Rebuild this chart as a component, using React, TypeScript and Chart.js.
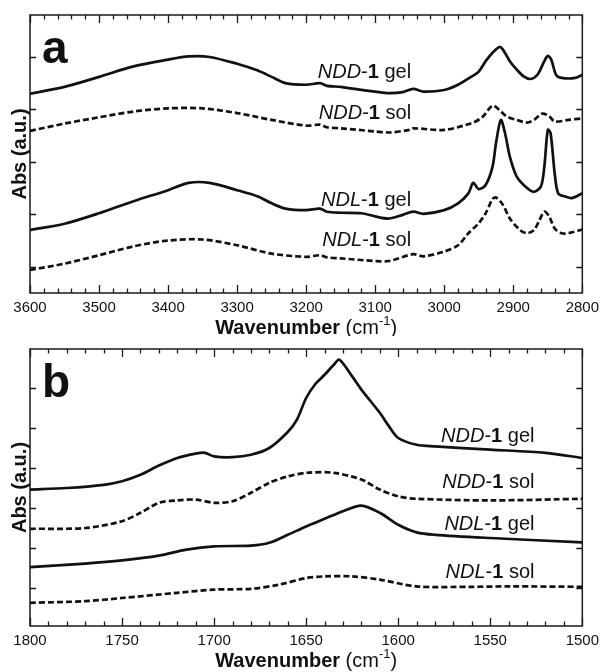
import React, { useEffect, useRef } from 'react';
import { Chart, registerables } from 'chart.js';

Chart.register(...registerables);

const FONT = '"Liberation Sans", Arial, Helvetica, sans-serif';

// ---------- Panel a (3600–2800 cm-1) ----------
const A_X_MIN = 2800;
const A_X_MAX = 3600;
const A_X_MAJOR = 100;
const A_X_MINOR = 20;
const A_Y_MIN = 0.5;
const A_Y_MAX = 5.8;
const A_Y_TICKS = [1, 2, 3, 4, 5];

const A_NDD_GEL_WN = [3600, 3550, 3500, 3450, 3400, 3370, 3340, 3300, 3270, 3250, 3230, 3200, 3180, 3170, 3150, 3130, 3100, 3080, 3060, 3045, 3030, 3000, 2980, 2960, 2950, 2940, 2930, 2920, 2915, 2905, 2895, 2885, 2875, 2865, 2855, 2850, 2845, 2838, 2830, 2810, 2800];
const A_NDD_GEL_ABS = [4.30, 4.43, 4.62, 4.82, 4.95, 5.01, 5.00, 4.87, 4.74, 4.62, 4.50, 4.47, 4.50, 4.45, 4.43, 4.39, 4.34, 4.31, 4.33, 4.39, 4.34, 4.37, 4.47, 4.63, 4.72, 4.92, 5.08, 5.19, 5.14, 4.92, 4.76, 4.63, 4.58, 4.66, 4.92, 5.02, 4.95, 4.66, 4.60, 4.60, 4.66];

const A_NDD_SOL_WN = [3600, 3550, 3500, 3450, 3400, 3350, 3300, 3250, 3200, 3180, 3170, 3150, 3100, 3080, 3050, 3045, 3000, 2960, 2945, 2930, 2920, 2910, 2895, 2880, 2870, 2858, 2848, 2840, 2820, 2800];
const A_NDD_SOL_ABS = [3.59, 3.73, 3.85, 3.96, 4.02, 4.02, 3.93, 3.80, 3.69, 3.71, 3.66, 3.64, 3.58, 3.56, 3.61, 3.64, 3.61, 3.74, 3.85, 4.07, 3.99, 3.87, 3.80, 3.75, 3.80, 3.92, 3.87, 3.77, 3.80, 3.83];

const A_NDL_GEL_WN = [3600, 3550, 3500, 3450, 3400, 3370, 3340, 3300, 3270, 3250, 3230, 3200, 3180, 3170, 3150, 3120, 3100, 3080, 3060, 3045, 3030, 3000, 2980, 2965, 2958, 2950, 2940, 2930, 2925, 2918, 2912, 2905, 2895, 2880, 2870, 2860, 2855, 2850, 2846, 2840, 2835, 2825, 2815, 2800];
const A_NDL_GEL_ABS = [1.70, 1.82, 2.02, 2.25, 2.46, 2.60, 2.60, 2.46, 2.34, 2.21, 2.11, 2.08, 2.11, 2.05, 2.03, 2.02, 1.96, 1.92, 1.99, 2.05, 2.01, 2.08, 2.21, 2.40, 2.60, 2.48, 2.56, 2.91, 3.36, 3.80, 3.55, 3.10, 2.72, 2.50, 2.43, 2.53, 2.91, 3.61, 3.55, 2.78, 2.40, 2.34, 2.31, 2.40];

const A_NDL_SOL_WN = [3600, 3550, 3500, 3450, 3400, 3350, 3300, 3250, 3200, 3180, 3170, 3150, 3100, 3080, 3045, 3030, 3000, 2980, 2965, 2950, 2940, 2930, 2925, 2915, 2905, 2890, 2880, 2870, 2862, 2855, 2848, 2840, 2830, 2820, 2800];
const A_NDL_SOL_ABS = [0.94, 1.06, 1.22, 1.39, 1.50, 1.52, 1.41, 1.25, 1.19, 1.22, 1.18, 1.16, 1.11, 1.11, 1.24, 1.20, 1.29, 1.41, 1.64, 1.83, 2.02, 2.29, 2.32, 2.18, 1.92, 1.70, 1.64, 1.70, 1.89, 2.05, 1.96, 1.73, 1.64, 1.64, 1.71];

// ---------- Panel b (1800–1500 cm-1) ----------
const B_X_MIN = 1500;
const B_X_MAX = 1800;
const B_X_MAJOR = 50;
const B_X_MINOR = 10;
const B_Y_MIN = 0.05;
const B_Y_MAX = 6.975;
const B_Y_TICKS = [1, 2, 3, 4, 5, 6];

const B_NDD_GEL_WN = [1800, 1780, 1760, 1750, 1740, 1730, 1720, 1710, 1705, 1700, 1690, 1680, 1670, 1660, 1655, 1650, 1645, 1640, 1635, 1632, 1625, 1620, 1610, 1605, 1600, 1590, 1580, 1550, 1520, 1500];
const B_NDD_GEL_ABS = [3.46, 3.50, 3.58, 3.67, 3.83, 4.06, 4.25, 4.36, 4.38, 4.29, 4.27, 4.33, 4.50, 4.90, 5.21, 5.75, 6.10, 6.33, 6.58, 6.71, 6.29, 5.96, 5.38, 5.04, 4.75, 4.58, 4.54, 4.46, 4.38, 4.25];

const B_NDD_SOL_WN = [1800, 1770, 1750, 1740, 1730, 1720, 1710, 1700, 1690, 1680, 1670, 1660, 1650, 1635, 1620, 1610, 1600, 1590, 1550, 1500];
const B_NDD_SOL_ABS = [2.48, 2.50, 2.67, 2.88, 3.13, 3.19, 3.21, 3.13, 3.17, 3.38, 3.63, 3.79, 3.88, 3.88, 3.71, 3.46, 3.29, 3.23, 3.19, 3.23];

const B_NDL_GEL_WN = [1800, 1770, 1750, 1730, 1715, 1700, 1680, 1670, 1660, 1650, 1640, 1630, 1620, 1610, 1600, 1590, 1580, 1550, 1500];
const B_NDL_GEL_ABS = [1.52, 1.61, 1.69, 1.81, 1.96, 2.04, 2.06, 2.13, 2.33, 2.54, 2.73, 2.92, 3.06, 2.88, 2.58, 2.39, 2.33, 2.25, 2.14];

const B_NDL_SOL_WN = [1800, 1770, 1750, 1720, 1700, 1680, 1665, 1650, 1640, 1625, 1610, 1590, 1560, 1540, 1500];
const B_NDL_SOL_ABS = [0.63, 0.67, 0.75, 0.88, 0.96, 0.98, 1.08, 1.25, 1.29, 1.29, 1.21, 1.04, 1.03, 1.04, 1.03];

// ---------- Text ----------
const SAMPLE_NAMES = ['NDD', 'NDD', 'NDL', 'NDL'];
const SAMPLE_STATES = ['gel', 'sol', 'gel', 'sol'];
const A_LABEL_WN = 3048;
const A_LABEL_ABS = [4.70, 3.92, 2.27, 1.51];
const B_LABEL_WN = 1526;
const B_LABEL_ABS = [4.78, 3.65, 2.58, 1.40];

type Run = { t: string; w?: string; i?: boolean; size?: number; dy?: number };

function runFont(r: Run, base: number) {
  return `${r.i ? 'italic ' : ''}${r.w || 'normal'} ${r.size || base}px ${FONT}`;
}

function drawRuns(ctx: CanvasRenderingContext2D, runs: Run[], x: number, y: number, align: string, base: number) {
  let total = 0;
  for (const r of runs) {
    ctx.font = runFont(r, base);
    total += ctx.measureText(r.t).width;
  }
  let cx = align === 'right' ? x - total : align === 'center' ? x - total / 2 : x;
  ctx.textAlign = 'left';
  ctx.textBaseline = 'middle';
  for (const r of runs) {
    ctx.font = runFont(r, base);
    ctx.fillText(r.t, cx, y + (r.dy || 0));
    cx += ctx.measureText(r.t).width;
  }
}

type PanelCfg = {
  letter: string;
  letterY: number;
  xMin: number; xMax: number; xMajor: number; xMinor: number;
  yMin: number; yMax: number; yTicks: number[];
  top: number; xh: number;
  series: { wn: number[]; abs: number[]; dashed: boolean }[];
  labelWn: number; labelAbs: number[];
};

function makeDecor(cfg: PanelCfg) {
  return {
    id: 'decor',
    afterDraw(chart: any) {
      const { ctx, chartArea: ca, scales } = chart;
      const xs = scales.x;
      const ys = scales.y;
      ctx.save();
      ctx.strokeStyle = '#1a1a1a';
      ctx.lineWidth = 1.5;
      ctx.strokeRect(ca.left, ca.top, ca.right - ca.left, ca.bottom - ca.top);
      ctx.lineWidth = 1.3;
      ctx.beginPath();
      const n = Math.round((cfg.xMax - cfg.xMin) / cfg.xMinor);
      for (let k = 0; k <= n; k++) {
        const v = cfg.xMin + k * cfg.xMinor;
        const p = Math.round(xs.getPixelForValue(v)) + 0.5;
        const major = v % cfg.xMajor === 0;
        const L = major ? 8 : 4.5;
        ctx.moveTo(p, ca.bottom); ctx.lineTo(p, ca.bottom - L);
        ctx.moveTo(p, ca.top); ctx.lineTo(p, ca.top + L);
      }
      for (const v of cfg.yTicks) {
        const p = Math.round(ys.getPixelForValue(v)) + 0.5;
        ctx.moveTo(ca.left, p); ctx.lineTo(ca.left + 6, p);
        ctx.moveTo(ca.right, p); ctx.lineTo(ca.right - 6, p);
      }
      ctx.stroke();

      ctx.fillStyle = '#111';
      // panel letter
      ctx.font = `bold 46px ${FONT}`;
      ctx.textAlign = 'left';
      ctx.textBaseline = 'alphabetic';
      ctx.fillText(cfg.letter, 42, cfg.letterY);

      // curve labels
      const lx = xs.getPixelForValue(cfg.labelWn);
      cfg.labelAbs.forEach((a, i) => {
        const ly = ys.getPixelForValue(a);
        drawRuns(ctx, [
          { t: SAMPLE_NAMES[i], i: true },
          { t: '-' },
          { t: '1', w: 'bold' },
          { t: ' ' + SAMPLE_STATES[i] },
        ], lx, ly, 'right', 20);
      });

      // x title
      const cxm = (ca.left + ca.right) / 2;
      drawRuns(ctx, [
        { t: 'Wavenumber ', w: 'bold' },
        { t: '(cm' },
        { t: '-1', size: 13, dy: -7 },
        { t: ')' },
      ], cxm, ca.bottom + 35, 'center', 20);

      // y title
      ctx.translate(20, (ca.top + ca.bottom) / 2);
      ctx.rotate(-Math.PI / 2);
      drawRuns(ctx, [{ t: 'Abs (a.u.)', w: 'bold' }], 0, 0, 'center', 20);
      ctx.restore();
    },
  };
}

function Panel({ cfg, top }: { cfg: PanelCfg; top: number }) {
  const ref = useRef<HTMLCanvasElement | null>(null);
  useEffect(() => {
    if (!ref.current) return;
    const chart = new Chart(ref.current, {
      type: 'line',
      data: {
        datasets: cfg.series.map((s) => ({
          data: s.wn.map((x, i) => ({ x, y: s.abs[i] })),
          borderColor: '#111',
          borderWidth: 2.7,
          borderDash: s.dashed ? [6, 3] : [],
          pointRadius: 0,
          tension: 0.3,
          fill: false,
        })),
      },
      options: {
        animation: false,
        responsive: false,
        events: [],
        layout: { padding: { left: 30, right: 20, top: cfg.top, bottom: 0 } },
        plugins: { legend: { display: false }, tooltip: { enabled: false } },
        scales: {
          x: {
            type: 'linear',
            reverse: true,
            min: cfg.xMin,
            max: cfg.xMax,
            afterFit: (s: any) => { s.height = cfg.xh; },
            grid: { display: false, drawTicks: false },
            border: { display: false },
            ticks: {
              stepSize: cfg.xMajor,
              autoSkip: false,
              maxRotation: 0,
              padding: 6,
              color: '#111',
              font: { family: FONT, size: 15 },
              callback: (v: any) => String(v),
            },
          },
          y: { type: 'linear', display: false, min: cfg.yMin, max: cfg.yMax },
        },
      } as any,
      plugins: [makeDecor(cfg)],
    });
    return () => chart.destroy();
  }, [cfg]);
  return (
    <canvas
      ref={ref}
      width={605}
      height={336}
      style={{ position: 'absolute', left: 0, top, width: 605, height: 336 }}
    />
  );
}

const PANEL_A: PanelCfg = {
  letter: 'a', letterY: 63,
  xMin: A_X_MIN, xMax: A_X_MAX, xMajor: A_X_MAJOR, xMinor: A_X_MINOR,
  yMin: A_Y_MIN, yMax: A_Y_MAX, yTicks: A_Y_TICKS,
  top: 15, xh: 43,
  series: [
    { wn: A_NDD_GEL_WN, abs: A_NDD_GEL_ABS, dashed: false },
    { wn: A_NDD_SOL_WN, abs: A_NDD_SOL_ABS, dashed: true },
    { wn: A_NDL_GEL_WN, abs: A_NDL_GEL_ABS, dashed: false },
    { wn: A_NDL_SOL_WN, abs: A_NDL_SOL_ABS, dashed: true },
  ],
  labelWn: A_LABEL_WN, labelAbs: A_LABEL_ABS,
};

const PANEL_B: PanelCfg = {
  letter: 'b', letterY: 61,
  xMin: B_X_MIN, xMax: B_X_MAX, xMajor: B_X_MAJOR, xMinor: B_X_MINOR,
  yMin: B_Y_MIN, yMax: B_Y_MAX, yTicks: B_Y_TICKS,
  top: 13, xh: 46,
  series: [
    { wn: B_NDD_GEL_WN, abs: B_NDD_GEL_ABS, dashed: false },
    { wn: B_NDD_SOL_WN, abs: B_NDD_SOL_ABS, dashed: true },
    { wn: B_NDL_GEL_WN, abs: B_NDL_GEL_ABS, dashed: false },
    { wn: B_NDL_SOL_WN, abs: B_NDL_SOL_ABS, dashed: true },
  ],
  labelWn: B_LABEL_WN, labelAbs: B_LABEL_ABS,
};

export default function App() {
  return (
    <div style={{ position: 'absolute', left: 0, top: 0, width: 605, height: 672, background: '#fff' }}>
      <Panel cfg={PANEL_A} top={0} />
      <Panel cfg={PANEL_B} top={336} />
    </div>
  );
}
